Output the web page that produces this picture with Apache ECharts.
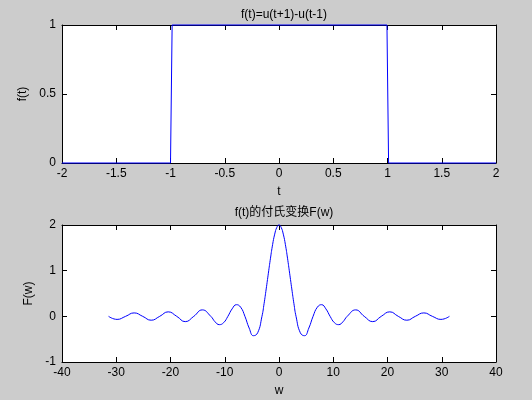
<!DOCTYPE html>
<html>
<head>
<meta charset="utf-8">
<script src="https://cdn.jsdelivr.net/npm/echarts@6/dist/echarts.min.js"></script>
<style>
html, body { margin: 0; padding: 0; background: #cccccc; }
#main { width: 532px; height: 400px; }
</style>
</head>
<body>
<div id="main"></div>
<script>
// f(t) = u(t+1) - u(t-1)
var tValues = [-2, -1, -0.985, 0.995, 1.01, 2];
var fValues = [0, 0, 1, 1, 0, 0];

// F(w)
var wValues = [-31.42, -29.85, -28.27, -26.70, -25.13, -23.56, -21.99, -20.42, -18.85, -17.28,
    -15.71, -14.14, -12.57, -11.78, -11.00, -10.21, -9.42, -8.64, -7.85, -7.07, -6.28,
    -5.50, -4.71, -3.93, -3.14, -2.75, -2.36, -1.96, -1.57, -1.18, -0.79, -0.39, 0,
    0.39, 0.79, 1.18, 1.57, 1.96, 2.36, 2.75, 3.14, 3.93, 4.71, 5.50, 6.28,
    7.07, 7.85, 8.64, 9.42, 10.21, 11.00, 11.78, 12.57, 14.14, 15.71,
    17.28, 18.85, 20.42, 21.99, 23.56, 25.13, 26.70, 28.27, 29.85, 31.42];
var FValues = [0, -0.067, 0, 0.075, 0, -0.085, 0, 0.098, 0, -0.116,
    0, 0.141, 0, -0.120, -0.182, -0.139, 0, 0.164, 0.255, 0.200, 0,
    -0.257, -0.424, -0.360, 0, 0.278, 0.600, 0.944, 1.273, 1.57, 1.80, 1.95, 2,
    1.95, 1.80, 1.57, 1.273, 0.944, 0.600, 0.278, 0, -0.360, -0.424, -0.257, 0,
    0.200, 0.255, 0.164, 0, -0.139, -0.182, -0.120, 0, 0.141, 0,
    -0.116, 0, 0.098, 0, -0.085, 0, 0.075, 0, -0.067, 0];

var topTicks = { min: -2, max: 2, interval: 0.5 };
var topYTicks = { min: 0, max: 1, interval: 0.5 };
var botTicks = { min: -40, max: 40, interval: 10 };
var botYTicks = { min: -1, max: 2, interval: 1 };

var font = "'Liberation Sans', Arial, 'Noto Sans CJK SC', sans-serif";
var chart = echarts.init(document.getElementById('main'));

function xAx(gridIndex, t, pos, name) {
    return {
        type: 'value', gridIndex: gridIndex, position: pos,
        min: t.min, max: t.max, interval: t.interval,
        name: name, nameLocation: 'middle', nameGap: 23,
        nameTextStyle: { color: '#000', fontSize: 12, fontFamily: font },
        axisLine: { show: true, onZero: false, lineStyle: { color: '#000', width: 1 } },
        axisTick: { show: true, inside: true, length: 5, lineStyle: { color: '#000' } },
        axisLabel: { show: pos === 'bottom', color: '#000', fontSize: 12, fontFamily: font, margin: 5 },
        splitLine: { show: false }
    };
}
function yAx(gridIndex, t, pos, name, gap) {
    return {
        type: 'value', gridIndex: gridIndex, position: pos,
        min: t.min, max: t.max, interval: t.interval,
        name: name, nameLocation: 'middle', nameGap: gap,
        nameTextStyle: { color: '#000', fontSize: 12, fontFamily: font },
        axisLine: { show: true, onZero: false, lineStyle: { color: '#000', width: 1 } },
        axisTick: { show: true, inside: true, length: 5, lineStyle: { color: '#000' } },
        axisLabel: { show: pos === 'left', color: '#000', fontSize: 12, fontFamily: font, margin: 6 },
        splitLine: { show: false }
    };
}

var option = {
    backgroundColor: '#cccccc',
    animation: false,
    title: [
        { text: 'f(t)=u(t+1)-u(t-1)', left: 279, top: 4, textAlign: 'center',
          textStyle: { color: '#000', fontSize: 12, fontWeight: 'normal', fontFamily: font } },
        { text: 'f(t)的付氏变换F(w)', left: 279, top: 202, textAlign: 'center',
          textStyle: { color: '#000', fontSize: 12, fontWeight: 'normal', fontFamily: font } }
    ],
    grid: [
        { left: 62, top: 25, width: 434, height: 138, show: true, backgroundColor: '#fff', borderWidth: 0 },
        { left: 62, top: 225, width: 434, height: 137, show: true, backgroundColor: '#fff', borderWidth: 0 }
    ],
    xAxis: [
        xAx(0, topTicks, 'bottom', 't'),
        xAx(0, topTicks, 'top', ''),
        xAx(1, botTicks, 'bottom', 'w'),
        xAx(1, botTicks, 'top', '')
    ],
    yAxis: [
        yAx(0, topYTicks, 'left', 'f(t)', 28),
        yAx(0, topYTicks, 'right', '', 0),
        yAx(1, botYTicks, 'left', 'F(w)', 22),
        yAx(1, botYTicks, 'right', '', 0)
    ],
    series: [
        {
            type: 'line', xAxisIndex: 0, yAxisIndex: 0,
            data: tValues.map(function (t, i) { return [t, fValues[i]]; }),
            showSymbol: false, clip: false, z: 5,
            lineStyle: { color: '#0000ff', width: 1 }
        },
        {
            type: 'line', xAxisIndex: 2, yAxisIndex: 2, smooth: true,
            data: wValues.map(function (w, i) { return [w, FValues[i]]; }),
            showSymbol: false, clip: false, z: 5,
            lineStyle: { color: '#0000ff', width: 1 }
        }
    ]
};
chart.setOption(option);
</script>
</body>
</html>
